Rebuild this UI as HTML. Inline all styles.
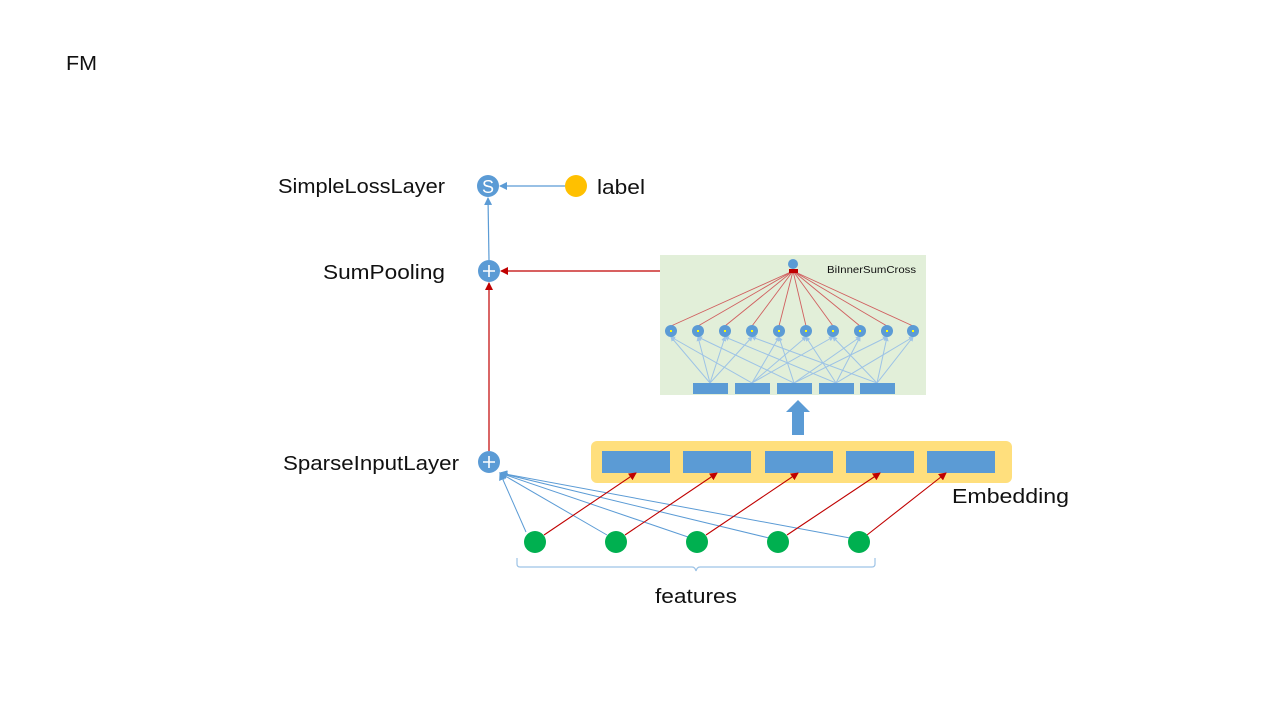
<!DOCTYPE html>
<html><head><meta charset="utf-8"><style>body{margin:0;background:#fff}svg{display:block}text{font-family:"Liberation Sans",sans-serif;fill:#111}</style></head><body>
<svg width="1280" height="720" viewBox="0 0 1280 720">
<defs>
<marker id="rb" markerWidth="8" markerHeight="8" refX="7" refY="4" orient="auto" markerUnits="userSpaceOnUse"><path d="M0,0 L8,4 L0,8z" fill="#c00000"/></marker>
<marker id="bb" markerWidth="8" markerHeight="8" refX="7" refY="4" orient="auto" markerUnits="userSpaceOnUse"><path d="M0,0 L8,4 L0,8z" fill="#5b9bd5"/></marker>
<marker id="sb" markerWidth="5" markerHeight="5" refX="4" refY="2.5" orient="auto" markerUnits="userSpaceOnUse"><path d="M0,0 L5,2.5 L0,5z" fill="#9dc3e6"/></marker>
</defs>
<text x="66" y="70" font-size="20" textLength="31" lengthAdjust="spacingAndGlyphs">FM</text>
<text x="278" y="193" font-size="20" textLength="167" lengthAdjust="spacingAndGlyphs">SimpleLossLayer</text>
<text x="323" y="279" font-size="20" textLength="122" lengthAdjust="spacingAndGlyphs">SumPooling</text>
<text x="283" y="470" font-size="20" textLength="176" lengthAdjust="spacingAndGlyphs">SparseInputLayer</text>
<text x="597" y="194" font-size="20" textLength="48" lengthAdjust="spacingAndGlyphs">label</text>
<text x="952" y="503" font-size="20" textLength="117" lengthAdjust="spacingAndGlyphs">Embedding</text>
<text x="655" y="603" font-size="20" textLength="82" lengthAdjust="spacingAndGlyphs">features</text>
<line x1="565" y1="186" x2="500" y2="186" stroke="#5b9bd5" stroke-width="1.2" marker-end="url(#bb)"/>
<line x1="489" y1="260" x2="488" y2="198" stroke="#5b9bd5" stroke-width="1.2" marker-end="url(#bb)"/>
<line x1="660" y1="271" x2="501" y2="271" stroke="#c00000" stroke-width="1.2" marker-end="url(#rb)"/>
<line x1="489" y1="451" x2="489" y2="283" stroke="#c00000" stroke-width="1.2" marker-end="url(#rb)"/>
<circle cx="488" cy="186" r="11" fill="#5b9bd5"/><text x="488" y="193" font-size="18" text-anchor="middle" style="fill:#fff">S</text>
<circle cx="576" cy="186" r="11" fill="#ffc000"/>
<circle cx="489" cy="271" r="11" fill="#5b9bd5"/><path d="M483,271h12M489,265v12" stroke="#fff" stroke-width="1.6"/>
<circle cx="489" cy="462" r="11" fill="#5b9bd5"/><path d="M483,462h12M489,456v12" stroke="#fff" stroke-width="1.6"/>
<rect x="660" y="255" width="266" height="140" fill="#e2efd9"/>
<text x="827" y="273" font-size="10" textLength="89" lengthAdjust="spacingAndGlyphs">BiInnerSumCross</text>
<g stroke="#9dc3e6" stroke-width="1">
<line x1="710" y1="383" x2="671" y2="337" marker-end="url(#sb)"/><line x1="752" y1="383" x2="671" y2="337" marker-end="url(#sb)"/>
<line x1="710" y1="383" x2="698" y2="337" marker-end="url(#sb)"/><line x1="794" y1="383" x2="698" y2="337" marker-end="url(#sb)"/>
<line x1="710" y1="383" x2="725" y2="337" marker-end="url(#sb)"/><line x1="836" y1="383" x2="725" y2="337" marker-end="url(#sb)"/>
<line x1="710" y1="383" x2="752" y2="337" marker-end="url(#sb)"/><line x1="877" y1="383" x2="752" y2="337" marker-end="url(#sb)"/>
<line x1="752" y1="383" x2="779" y2="337" marker-end="url(#sb)"/><line x1="794" y1="383" x2="779" y2="337" marker-end="url(#sb)"/>
<line x1="752" y1="383" x2="806" y2="337" marker-end="url(#sb)"/><line x1="836" y1="383" x2="806" y2="337" marker-end="url(#sb)"/>
<line x1="752" y1="383" x2="833" y2="337" marker-end="url(#sb)"/><line x1="877" y1="383" x2="833" y2="337" marker-end="url(#sb)"/>
<line x1="794" y1="383" x2="860" y2="337" marker-end="url(#sb)"/><line x1="836" y1="383" x2="860" y2="337" marker-end="url(#sb)"/>
<line x1="794" y1="383" x2="887" y2="337" marker-end="url(#sb)"/><line x1="877" y1="383" x2="887" y2="337" marker-end="url(#sb)"/>
<line x1="836" y1="383" x2="913" y2="337" marker-end="url(#sb)"/><line x1="877" y1="383" x2="913" y2="337" marker-end="url(#sb)"/>
</g>
<g stroke="#d06060" stroke-width="0.9">
<line x1="793" y1="271" x2="671" y2="326"/><line x1="793" y1="271" x2="698" y2="326"/><line x1="793" y1="271" x2="725" y2="326"/><line x1="793" y1="271" x2="752" y2="326"/><line x1="793" y1="271" x2="779" y2="326"/><line x1="793" y1="271" x2="806" y2="326"/><line x1="793" y1="271" x2="833" y2="326"/><line x1="793" y1="271" x2="860" y2="326"/><line x1="793" y1="271" x2="887" y2="326"/><line x1="793" y1="271" x2="913" y2="326"/>
</g>
<rect x="789" y="269" width="9" height="4" fill="#c00000"/>
<circle cx="793" cy="264" r="5" fill="#5b9bd5"/>
<g fill="#5b9bd5"><circle cx="671" cy="331" r="6"/><circle cx="698" cy="331" r="6"/><circle cx="725" cy="331" r="6"/><circle cx="752" cy="331" r="6"/><circle cx="779" cy="331" r="6"/><circle cx="806" cy="331" r="6"/><circle cx="833" cy="331" r="6"/><circle cx="860" cy="331" r="6"/><circle cx="887" cy="331" r="6"/><circle cx="913" cy="331" r="6"/></g>
<g fill="#ffff00"><rect x="670" y="330" width="2" height="2"/><rect x="697" y="330" width="2" height="2"/><rect x="724" y="330" width="2" height="2"/><rect x="751" y="330" width="2" height="2"/><rect x="778" y="330" width="2" height="2"/><rect x="805" y="330" width="2" height="2"/><rect x="832" y="330" width="2" height="2"/><rect x="859" y="330" width="2" height="2"/><rect x="886" y="330" width="2" height="2"/><rect x="912" y="330" width="2" height="2"/></g>
<g fill="#5b9bd5"><rect x="693" y="383" width="35" height="11"/><rect x="735" y="383" width="35" height="11"/><rect x="777" y="383" width="35" height="11"/><rect x="819" y="383" width="35" height="11"/><rect x="860" y="383" width="35" height="11"/></g>
<path d="M792,435 V412 H786 L798,400 L810,412 H804 V435z" fill="#5b9bd5"/>
<rect x="591" y="441" width="421" height="42" rx="6" fill="#ffd966" opacity="0.85"/>
<g fill="#5b9bd5"><rect x="602" y="451" width="68" height="22"/><rect x="683" y="451" width="68" height="22"/><rect x="765" y="451" width="68" height="22"/><rect x="846" y="451" width="68" height="22"/><rect x="927" y="451" width="68" height="22"/></g>
<g stroke="#5b9bd5" stroke-width="1" marker-end="url(#bb)">
<line x1="526" y1="532" x2="500" y2="473"/><line x1="607" y1="535" x2="500" y2="473"/><line x1="688" y1="537" x2="500" y2="473"/><line x1="769" y1="538" x2="500" y2="473"/><line x1="850" y1="538" x2="500" y2="473"/>
</g>
<g stroke="#c00000" stroke-width="1.1" marker-end="url(#rb)">
<line x1="544" y1="535" x2="636" y2="473"/><line x1="625" y1="535" x2="717" y2="473"/><line x1="706" y1="535" x2="798" y2="473"/><line x1="787" y1="535" x2="880" y2="473"/><line x1="867" y1="535" x2="946" y2="473"/>
</g>
<g fill="#00b050"><circle cx="535" cy="542" r="11"/><circle cx="616" cy="542" r="11"/><circle cx="697" cy="542" r="11"/><circle cx="778" cy="542" r="11"/><circle cx="859" cy="542" r="11"/></g>
<path d="M517,558 v6 q0,3 3,3 H692 q3,0 4,4 q1,-4 4,-4 H872 q3,0 3,-3 v-6" fill="none" stroke="#9dc3e6" stroke-width="1.2"/>
</svg>
</body></html>
